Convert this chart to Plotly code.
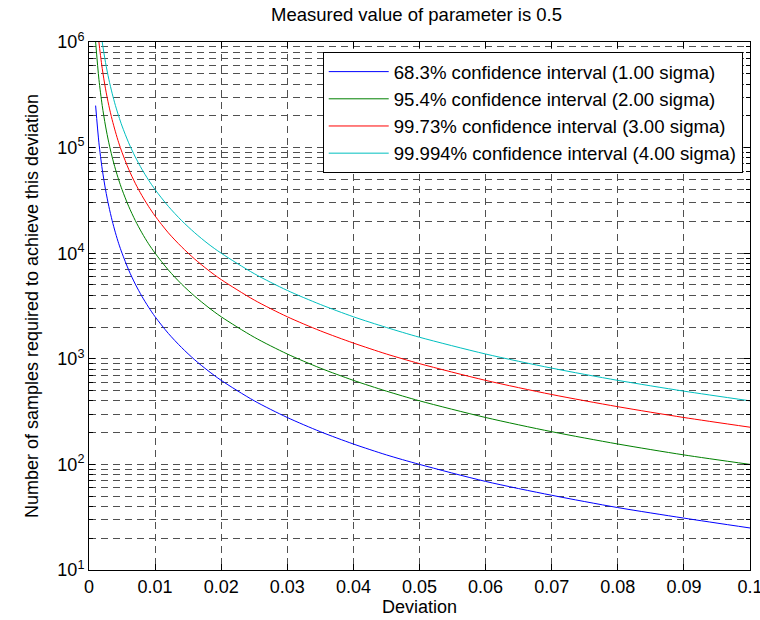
import plotly.graph_objects as go

# Deviation from the measured value (x axis)
deviation = [0.001, 0.0015, 0.002, 0.0025, 0.003, 0.0035, 0.004, 0.0045, 0.005,
             0.006, 0.007, 0.008, 0.009, 0.01, 0.012, 0.014, 0.016, 0.018, 0.02,
             0.025, 0.03, 0.035, 0.04, 0.045, 0.05, 0.06, 0.07, 0.08, 0.09, 0.1]

# Required sample counts for each confidence level
samples_1sigma = [250000, 111000, 62500, 40000, 27800, 20400, 15600, 12300, 10000,
                  6940, 5100, 3910, 3090, 2500, 1740, 1280, 977, 772, 625,
                  400, 278, 204, 156, 123, 100, 69, 51, 39, 31, 25]
samples_2sigma = [1000000, 444000, 250000, 160000, 111000, 81600, 62500, 49400, 40000,
                  27800, 20400, 15600, 12300, 10000, 6940, 5100, 3910, 3090, 2500,
                  1600, 1110, 816, 625, 494, 400, 278, 204, 156, 123, 100]
samples_3sigma = [2250000, 1000000, 562500, 360000, 250000, 184000, 141000, 111000, 90000,
                  62500, 45900, 35200, 27800, 22500, 15600, 11500, 8790, 6940, 5625,
                  3600, 2500, 1840, 1410, 1110, 900, 625, 459, 352, 278, 225]
samples_4sigma = [4000000, 1780000, 1000000, 640000, 444000, 327000, 250000, 198000, 160000,
                  111000, 81600, 62500, 49400, 40000, 27800, 20400, 15600, 12300, 10000,
                  6400, 4440, 3270, 2500, 1980, 1600, 1110, 816, 625, 494, 400]

series_names = [
    "68.3% confidence interval (1.00 sigma)",
    "95.4% confidence interval (2.00 sigma)",
    "99.73% confidence interval (3.00 sigma)",
    "99.994% confidence interval (4.00 sigma)",
]
series_values = [samples_1sigma, samples_2sigma, samples_3sigma, samples_4sigma]
series_colors = ["#0000ff", "#008000", "#ff0000", "#00bfbf"]

x_ticks = [0, 0.01, 0.02, 0.03, 0.04, 0.05, 0.06, 0.07, 0.08, 0.09, 0.1]
x_tick_text = ["0", "0.01", "0.02", "0.03", "0.04", "0.05", "0.06", "0.07", "0.08", "0.09", "0.1"]
y_major = [10, 100, 1000, 10000, 100000, 1000000]
y_major_text = ["10<sup>1</sup>", "10<sup>2</sup>", "10<sup>3</sup>",
                "10<sup>4</sup>", "10<sup>5</sup>", "10<sup>6</sup>"]
y_minor = [m * 10 ** k for k in range(1, 6) for m in range(2, 10)]

FONT = "Liberation Sans, Arial, Helvetica, sans-serif"
GRID_DASH = "7px,5px"
GRID_COLOR = "#505050"

fig = go.Figure()
for name, vals, col in zip(series_names, series_values, series_colors):
    fig.add_trace(go.Scatter(
        x=deviation, y=vals, name=name, mode="lines",
        line=dict(color=col, width=1, shape="spline", smoothing=0.8),
    ))

fig.update_layout(
    width=760, height=620,
    margin=dict(l=89, r=10, t=42, b=50),
    paper_bgcolor="white", plot_bgcolor="white",
    font=dict(family=FONT, size=18, color="black"),
    title=dict(text="Measured value of parameter is 0.5", x=0.548, xanchor="center",
               y=1 - 15 / 620, yanchor="middle", font=dict(size=18.5, color="black")),
    legend=dict(
        x=0.989, xanchor="right", y=0.981, yanchor="top",
        bgcolor="white", bordercolor="black", borderwidth=1,
        font=dict(size=18.6, color="black"), itemwidth=60,
        tracegroupgap=0,
    ),
    xaxis=dict(
        range=[0, 0.1], tickmode="array",
        tickvals=x_ticks, ticktext=x_tick_text,
        ticklabeloverflow="allow", automargin=False,
        ticks="inside", ticklen=6, tickcolor="black",
        showline=True, linecolor="black", linewidth=1, mirror="allticks",
        showgrid=True, gridcolor=GRID_COLOR, griddash=GRID_DASH, gridwidth=1,
        zeroline=False,
        title=dict(text="Deviation", standoff=1, font=dict(size=18)),
    ),
    yaxis=dict(
        type="log", range=[1, 6], tickmode="array",
        tickvals=y_major, ticktext=y_major_text,
        ticks="inside", ticklen=6, tickcolor="black",
        showline=True, linecolor="black", linewidth=1, mirror="allticks",
        showgrid=True, gridcolor=GRID_COLOR, griddash=GRID_DASH, gridwidth=1,
        zeroline=False,
        minor=dict(tickmode="array", tickvals=y_minor, ticks="inside", ticklen=4,
                   tickcolor="black", showgrid=True, gridcolor=GRID_COLOR,
                   griddash=GRID_DASH, gridwidth=1),
        title=dict(text="Number of samples required to achieve this deviation",
                   standoff=14, font=dict(size=18)),
    ),
)

fig.write_html("out.html")
